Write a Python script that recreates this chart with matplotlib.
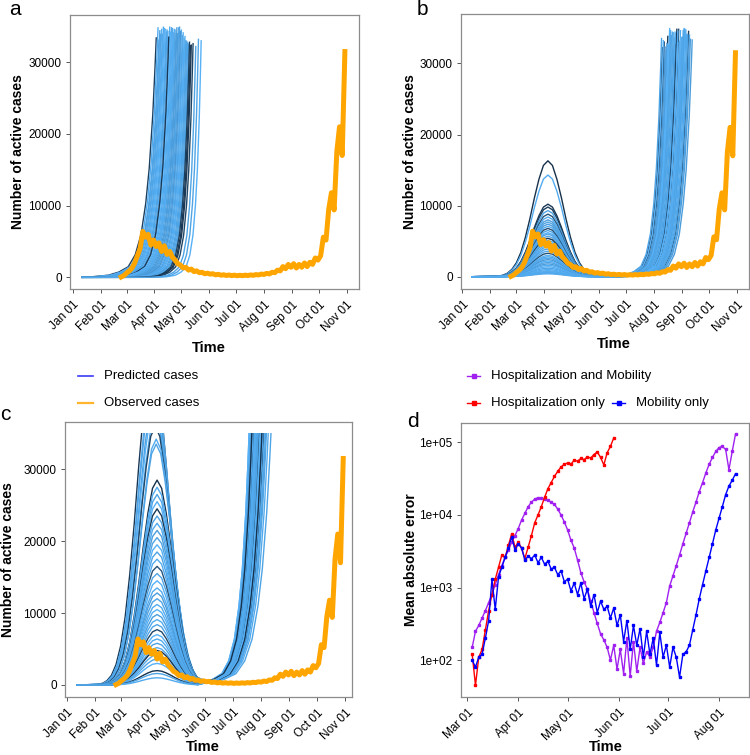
import numpy as np
import pandas as pd
import matplotlib
matplotlib.use("Agg")
import matplotlib.pyplot as plt
import matplotlib.dates as mdates
import matplotlib.transforms as mtransforms
from matplotlib.colors import LinearSegmentedColormap
from matplotlib.lines import Line2D
from matplotlib.patches import Rectangle

plt.rcParams['font.family'] = ['Liberation Sans', 'DejaVu Sans']

# observed active cases, one value every 3 days from 24 Feb 2020
obs_first = '2020-02-24'
observed = [50, 250, 600, 900, 1300, 2000, 3000, 4000, 6400, 5600,
            6000, 4500, 5200, 4300, 4800, 3600, 4400, 3200, 3600, 2800,
            2400, 1900, 1700, 1300, 1400, 1000, 1150, 800, 900, 650,
            700, 500, 580, 450, 500, 350, 420, 300, 350, 260,
            320, 240, 300, 220, 280, 230, 300, 250, 330, 280,
            380, 330, 450, 400, 550, 480, 700, 650, 1000, 900,
            1500, 1200, 1800, 1400, 1900, 1300, 1800, 1400, 2000, 1500,
            2100, 1800, 2700, 2400, 3000, 5600, 5200, 9500, 11800, 9400,
            17500, 21000, 17000, 31500]

# predicted runs start on day 11 (12 Jan)
sim_start = 11

# growth of a typical predicted run: days before it leaves the plot, cases
growth_days = [-75, -55, -41, -32, -24, -18, -13, -9, -6, -3, -1, 0]
growth_vals = [0, 80, 300, 750, 1500, 3200, 6100, 10500, 15500, 23000, 30000, 34000]

# first wave bump: days from peak, share of the peak
bump_days = [-60, -55, -50, -45, -40, -35, -30, -25, -20, -15, -10, -5,
             0, 5, 10, 15, 20, 25, 30, 35, 40, 45]
bump_vals = [0.002, 0.005, 0.013, 0.03, 0.063, 0.12, 0.21, 0.34, 0.5, 0.68, 0.84, 0.96,
             1.0, 0.96, 0.84, 0.68, 0.5, 0.34, 0.21, 0.12, 0.063, 0.03]

# panel a runs (day of year when leaving the plot)
a_end = [93, 118, 104, 127, 99, 112, 131, 108, 96, 121,
         115, 102, 125, 110, 134, 106, 119, 100, 129, 113,
         97, 123, 116, 107, 137, 111, 103, 126, 120, 95,
         114, 130, 109, 122, 101, 117, 143, 105, 128, 124,
         98, 132, 140, 112]
a_stretch = [1.30, 1.00, 1.17, 0.89, 1.23, 1.07, 0.84, 1.12, 1.26, 0.96,
             1.04, 1.19, 0.92, 1.10, 0.81, 1.14, 0.99, 1.22, 0.87, 1.06,
             1.25, 0.94, 1.02, 1.13, 0.77, 1.08, 1.18, 0.90, 0.98, 1.28,
             1.05, 0.86, 1.11, 0.95, 1.20, 1.01, 0.70, 1.16, 0.88, 0.93,
             1.24, 0.83, 0.74, 1.07]
a_top = [33400, 34800, 34200, 32900, 34600, 33800, 32300, 34900, 33100, 34500,
         34000, 34700, 33600, 34800, 32600, 34300, 34900, 33900, 32500, 34600,
         34400, 34100, 34800, 33500, 32200, 34700, 34600, 33000, 34300, 34800,
         34500, 32800, 34200, 33700, 34900, 34000, 33000, 34500, 32700, 33300,
         33900, 32400, 33200, 34100]
a_shade = [0.15, 0.95, 0.9, 0.9, 1.0, 0.9, 0.1, 0.95, 0.9, 1.0,
           0.85, 0.95, 1.0, 0.9, 0.2, 0.95, 0.9, 0.9, 0.85, 1.0,
           0.9, 0.95, 0.85, 0.1, 0.9, 0.95, 1.0, 0.9, 0.8, 0.95,
           0.9, 0.15, 1.0, 0.9, 0.95, 0.85, 1.0, 0.9, 0.9, 0.95,
           0.9, 0.1, 0.9, 0.95]

# panel b runs: first wave peak (5 Apr) and second rise
b_peak = [16300, 14300, 10200, 9800, 9300, 8800, 8400, 8000, 7700, 7400,
          7100, 6800, 6500, 6200, 6000, 5700, 5400, 5100, 4800, 4500,
          4200, 3900, 3600, 3300, 3000, 2800, 2600, 2400, 2200, 2000,
          1800, 1600, 1400, 1200, 1000, 850, 700, 600, 500, 400]
b_peak_day = 95
b_end = [228, 246, 222, 251, 235, 240, 226, 255, 231, 243,
         237, 224, 248, 233, 229, 252, 238, 241, 227, 245,
         234, 221, 249, 236, 230, 244, 239, 225, 247, 232,
         253, 242, 228, 250, 236, 223, 246, 239, 231, 243]
b_stretch = [1.0, 1.05, 0.95, 1.1, 1.0, 1.05, 0.95, 1.1, 1.0, 1.05,
             1.0, 0.95, 1.1, 1.0, 0.95, 1.1, 1.05, 1.05, 0.95, 1.05,
             1.0, 0.95, 1.1, 1.0, 1.0, 1.05, 1.05, 0.95, 1.1, 1.0,
             1.1, 1.05, 0.95, 1.1, 1.0, 0.95, 1.05, 1.05, 1.0, 1.05]
b_top = [33800, 34900, 32200, 34500, 33600, 34800, 31800, 33300, 34600, 32900,
         34200, 33000, 34700, 34400, 32500, 34000, 34800, 33100, 32800, 34600,
         34300, 33500, 34100, 32600, 34900, 33700, 34500, 32300, 34800, 33900,
         33400, 34600, 32700, 34000, 34400, 33200, 34700, 32900, 34300, 33600]
b_shade = [0.05, 0.95, 0.1, 0.15, 0.9, 0.3, 0.95, 0.85, 0.9, 0.85,
           0.95, 0.25, 0.9, 1.0, 0.9, 0.9, 0.1, 0.95, 0.85, 1.0,
           0.9, 0.9, 0.95, 0.3, 1.0, 0.9, 0.95, 0.8, 1.0, 0.9,
           0.85, 0.95, 1.0, 0.9, 0.95, 1.0, 0.9, 1.0, 0.9, 0.95]

# panel c runs
c_peak = [45000, 43000, 41500, 40000, 38500, 37000, 36000, 34200, 33500, 28500,
          27500, 26500, 25500, 24500, 23500, 22500, 21500, 20500, 19500, 18500,
          17500, 16500, 15500, 14500, 13500, 12800, 12000, 11200, 10500, 9800,
          9100, 8400, 7700, 7000, 6400, 5800, 5200, 4800, 4200, 3600,
          3000, 2000, 1600, 1000]
c_peak_day = [94, 95, 95, 96, 96, 97, 97, 98, 98, 99,
              99, 99, 99, 99, 99, 99, 99, 99, 99, 99,
              99, 99, 99, 99, 99, 99, 99, 99, 99, 99,
              99, 99, 99, 99, 99, 99, 99, 99, 99, 99,
              99, 99, 99, 99]
c_end = [205, 212, 200, 218, 208, 215, 203, 210, 224, 206,
         213, 201, 209, 216, 204, 211, 207, 219, 202, 214,
         208, 205, 212, 200, 217, 210, 206, 213, 203, 209,
         221, 207, 211, 204, 215, 202, 208, 214, 206, 210,
         212, 203, 209, 207]
c_stretch = [1.33, 1.43, 1.25, 1.52, 1.37, 1.48, 1.30, 1.40, 1.61, 1.34,
             1.45, 1.27, 1.39, 1.49, 1.31, 1.42, 1.36, 1.54, 1.28, 1.46,
             1.37, 1.33, 1.43, 1.25, 1.51, 1.40, 1.34, 1.45, 1.30, 1.39,
             1.57, 1.36, 1.42, 1.31, 1.48, 1.28, 1.37, 1.46, 1.34, 1.40,
             1.43, 1.30, 1.39, 1.36]
c_top = 35500
c_shade = [0.1, 0.95, 0.9, 0.85, 1.0, 0.9, 0.2, 0.95, 0.9, 0.05,
           0.95, 0.9, 1.0, 0.1, 0.9, 0.95, 0.85, 0.9, 1.0, 0.9,
           0.95, 0.3, 0.9, 1.0, 0.95, 0.85, 0.9, 0.95, 1.0, 0.85,
           0.95, 0.9, 0.2, 1.0, 0.95, 0.9, 0.95, 0.05, 0.95, 0.9,
           1.0, 0.05, 0.9, 0.95]

# panel d: mean absolute error, one value every 2 days from 4 Mar 2020
mae_first = '2020-03-04'
mae_both = [150, 250, 300, 380, 480, 620, 800, 1100, 1500, 2000, 2600, 3300, 4200, 5200,
            6500, 8500, 10500, 13000, 15000, 16500, 17300, 17000, 16500, 16000, 15000, 14000, 12000, 10000, 8000,
            6200, 4500, 3500, 2400, 1600, 1200, 950, 650, 450, 320, 230, 190, 150, 100, 160, 75,
            140, 65, 200, 60, 180, 70, 150, 90, 130, 110, 150, 250, 330, 450, 620,
            1050, 1450, 2000, 2800, 4000, 5600, 7800, 11000, 15000, 21000, 28000, 38000, 50000, 62000, 75000,
            85000, 88000, 80000, 42000, 75000, 130000]
mae_hosp = [120, 45, 110, 140, 260, 480, 800, 1300, 1900, 2800, 2600, 3800, 5500, 3600,
            4200, 3500, 2500, 3600, 5200, 7800, 10000, 13000, 17500, 23000, 28000, 34000, 40000, 46000, 50000,
            52000, 50000, 57000, 55000, 60000, 58000, 63000, 61000, 68000, 74000, 62000, 49000, 72000, 88000, 115000]
mae_mob = [100, 80, 110, 120, 200, 350, 1300, 500, 1400, 1900, 2600, 3500, 5000, 3300,
           4000, 3500, 2400, 2700, 2500, 2800, 2200, 2600, 2100, 2300, 1800, 1900, 1500, 1700, 1200,
           1300, 900, 1150, 800, 1150, 700, 950, 550, 800, 450, 650, 500, 550, 380, 520, 300,
           420, 180, 350, 140, 300, 160, 270, 110, 250, 120, 200, 85, 240, 110, 160,
           80, 150, 110, 58, 120, 130, 160, 260, 420, 700, 1100, 1700, 2600, 4000, 6200,
           9000, 13000, 19000, 25000, 30000, 37000]

cmap = LinearSegmentedColormap.from_list('gg', ['#132B43', '#56B1F7'])
jan1 = mdates.date2num(pd.Timestamp('2020-01-01'))
W, H = 750, 755
RUN_LW = 1.0


def growth_points(end, stretch, top, after):
    xs, ys = [], []
    for d, v in zip(growth_days, growth_vals):
        x = end + d * stretch
        if x > after:
            xs.append(x)
            ys.append(v * top / growth_vals[-1])
    return xs, ys


def bump_points(peak_day, peak):
    xs, ys = [sim_start], [0]
    for d, v in zip(bump_days, bump_vals):
        if peak_day + d > sim_start:
            xs.append(peak_day + d)
            ys.append(v * peak)
    return xs, ys


def style(ax):
    for s in ax.spines.values():
        s.set_color('#8c8c8c')
        s.set_linewidth(0.9)
    ax.tick_params(direction='out', length=3, width=0.7, color='#555555',
                   labelsize=8.5, labelcolor='black', pad=3)
    ax.tick_params(axis='x', pad=4)
    for lab in ax.get_xticklabels():
        lab.set_rotation(45)
        lab.set_ha('right')
        lab.set_rotation_mode('anchor')


def cases_axis(ax, xlim, ylim, ylab_x, xlab_pos):
    ax.xaxis.set_major_locator(mdates.MonthLocator(bymonth=range(1, 12)))
    ax.xaxis.set_major_formatter(mdates.DateFormatter('%b %d'))
    ax.set_xlim(jan1 + xlim[0], jan1 + xlim[1])
    ax.set_ylim(*ylim)
    ax.set_yticks([0, 10000, 20000, 30000])
    ax.set_ylabel('Number of active cases', fontsize=10, fontweight='bold')
    ax.set_xlabel('Time', fontsize=10.5, fontweight='bold', va='top')
    ax.yaxis.set_label_coords(ylab_x, 0.5)
    ax.xaxis.set_label_coords(*xlab_pos)
    style(ax)


def draw_observed(ax):
    x = mdates.date2num(pd.date_range(obs_first, periods=len(observed), freq='3D'))
    ax.plot(x, observed, color='#FFA500', lw=3.6, solid_joinstyle='round', zorder=5)


def rect(l, t, r, b):
    return [l / W, 1 - b / H, (r - l) / W, (b - t) / H]


fig = plt.figure(figsize=(7.5, 7.55), dpi=100)

# ---- a
ax = fig.add_axes(rect(70, 15, 359, 289))
for e, s, t, sh in zip(a_end, a_stretch, a_top, a_shade):
    gx, gy = growth_points(e, s, t, sim_start)
    ax.plot(jan1 + np.array([sim_start] + gx), [0] + gy, color=cmap(sh), lw=RUN_LW)
draw_observed(ax)
cases_axis(ax, (-3.0, 318.7), (-1630, 36600), -0.156, (0.48, -0.19))

# ---- b
ax = fig.add_axes(rect(461, 14, 749, 289))
for p, e, s, t, sh in zip(b_peak, b_end, b_stretch, b_top, b_shade):
    bx, by = bump_points(b_peak_day, p)
    gx, gy = growth_points(e, s, t, bx[-1])
    ax.plot(jan1 + np.array(bx + gx), by + gy, color=cmap(sh), lw=RUN_LW)
draw_observed(ax)
cases_axis(ax, (-1.4, 318.0), (-1730, 36950), -0.153, (0.53, -0.175))

# ---- c
ax = fig.add_axes(rect(65, 422, 352, 697))
clip = Rectangle((0, -1e6), 1, 1e6 + 35000,
                 transform=mtransforms.blended_transform_factory(ax.transAxes, ax.transData))
for p, pd_, e, s, sh in zip(c_peak, c_peak_day, c_end, c_stretch, c_shade):
    bx, by = bump_points(pd_, p)
    gx, gy = growth_points(e, s, c_top, bx[-1])
    ln, = ax.plot(jan1 + np.array(bx + gx), by + gy, color=cmap(sh), lw=RUN_LW)
    ln.set_clip_path(clip)
draw_observed(ax)
cases_axis(ax, (-1.9, 312.6), (-1670, 36580), -0.174, (0.48, -0.156))

# ---- d
ax = fig.add_axes(rect(461, 423, 749, 697))
xd = mdates.date2num(pd.date_range(mae_first, periods=len(mae_both), freq='2D'))
ax.plot(xd, mae_both, color='#A020F0', lw=1.0, marker='s', ms=1.6)
ax.plot(xd[:len(mae_hosp)], mae_hosp, color='#FF0000', lw=1.0, marker='s', ms=1.6)
ax.plot(xd[:len(mae_mob)], mae_mob, color='#0000FF', lw=1.0, marker='s', ms=1.6)
ax.set_yscale('log')
ax.set_ylim(31, 1.85e5)
ax.set_yticks([1e2, 1e3, 1e4, 1e5])
ax.set_yticklabels(['1e+02', '1e+03', '1e+04', '1e+05'])
ax.yaxis.set_minor_locator(matplotlib.ticker.NullLocator())
mar1 = jan1 + 60
ax.set_xlim(mar1 - 3.8, mar1 + 171.2)
ax.xaxis.set_major_locator(mdates.MonthLocator(bymonth=range(3, 9)))
ax.xaxis.set_major_formatter(mdates.DateFormatter('%b %d'))
ax.set_ylabel('Mean absolute error', fontsize=10, fontweight='bold')
ax.set_xlabel('Time', fontsize=10.5, fontweight='bold', va='top')
ax.yaxis.set_label_coords(-0.149, 0.5)
ax.xaxis.set_label_coords(0.503, -0.156)
style(ax)

# ---- legends
def key(x0, x1, y, color, lw, label, marker=False):
    fig.add_artist(Line2D([x0 / W, x1 / W], [1 - y / H] * 2, color=color, lw=lw))
    if marker:
        fig.add_artist(Line2D([(x0 + x1) / 2 / W], [1 - y / H], color=color,
                              marker='s', ms=3, ls=''))
    fig.text((x1 + 11) / W, 1 - y / H, label, va='center', fontsize=9.5)

key(78, 93, 376, '#3b3bf5', 1.2, 'Predicted cases')
key(78, 93, 403, '#FFB52E', 1.6, 'Observed cases')
key(467, 480, 376, '#A020F0', 1.0, 'Hospitalization and Mobility', marker=True)
key(467, 480, 403, '#FF0000', 1.0, 'Hospitalization only', marker=True)
key(612, 625, 403, '#0000FF', 1.0, 'Mobility only', marker=True)

# ---- panel letters
for x, y, s in [(9, 15, 'a'), (417, 15, 'b'), (0, 420, 'c'), (407, 427, 'd')]:
    fig.text(x / W, 1 - y / H, s, fontsize=15, va='baseline', ha='left')

fig.savefig('out.png', dpi=100)
